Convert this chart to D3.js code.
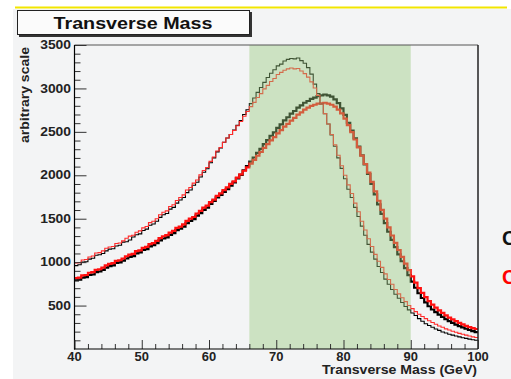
<!DOCTYPE html>
<html><head><meta charset="utf-8">
<script src="https://cdn.jsdelivr.net/npm/d3@7"></script>
<style>
html,body{margin:0;padding:0;background:#fff;}
svg{display:block;font-family:"Liberation Sans",Arial,sans-serif;}
</style></head>
<body>
<script>
// ---- data ----
const titleText = "Transverse Mass";
const xTitle = "Transverse Mass (GeV)";
const yTitle = "arbitrary scale";
const xTickLabels = [40, 50, 60, 70, 80, 90, 100];
const yTickLabels = [500, 1000, 1500, 2000, 2500, 3000, 3500];
const bandRange = [66, 90];
const binLow = d3.range(40, 100, 0.5); // lower edges of 0.5 GeV bins

// thin black (narrow peak)
const thinBlack = [960,970,1000,1005,1035,1045,1080,1085,1100,1130,1150,1155,1185,1195,1230,1235,1255,1290,1315,1325,
1365,1380,1425,1440,1470,1515,1545,1560,1610,1630,1680,1715,1745,1800,1830,1885,1920,1980,2035,2075,
2145,2200,2270,2315,2380,2430,2470,2520,2575,2630,2700,2755,2825,2890,2955,3010,3070,3125,3175,3215,
3260,3280,3315,3335,3345,3340,3350,3320,3290,3240,3165,3050,2940,2820,2710,2590,2465,2335,2200,2080,
1960,1840,1745,1630,1525,1415,1310,1205,1115,1035,950,880,805,745,685,630,585,535,490,450,
415,385,350,320,290,270,250,230,215,195,185,170,160,150,140,130,122,114,107,100];
// thin red (narrow peak)
const thinRed = [990,995,1025,1030,1060,1070,1105,1110,1130,1160,1175,1180,1215,1220,1245,1275,1300,1310,1345,1360,
1395,1410,1455,1470,1500,1545,1575,1590,1640,1660,1710,1745,1775,1830,1860,1910,1945,2005,2055,2090,
2160,2210,2280,2320,2380,2430,2470,2515,2570,2620,2680,2735,2790,2840,2895,2940,2995,3035,3080,3115,
3160,3185,3210,3225,3235,3225,3230,3200,3170,3130,3075,3005,2920,2820,2710,2590,2470,2350,2230,2110,
2000,1890,1790,1680,1580,1470,1370,1270,1180,1090,1010,940,865,800,745,685,635,590,545,500,
465,430,400,375,350,325,305,285,265,250,232,218,204,192,180,170,160,150,140,132];
// thick black (broad peak)
const thickBlack = [790,798,822,828,852,858,885,892,912,938,955,962,990,998,1018,1042,1060,1070,1100,1112,
1140,1150,1182,1195,1220,1250,1272,1285,1315,1335,1368,1385,1410,1448,1475,1495,1535,1565,1602,1628,
1672,1705,1745,1775,1808,1840,1882,1918,1965,2005,2058,2105,2158,2205,2258,2305,2358,2405,2455,2495,
2545,2585,2632,2668,2710,2740,2778,2805,2835,2855,2880,2895,2912,2920,2930,2920,2905,2875,2830,2770,
2695,2605,2515,2425,2330,2230,2125,2015,1900,1780,1665,1555,1450,1350,1257,1172,1090,1010,930,850,
775,705,642,587,537,492,455,425,396,369,344,321,300,281,264,248,233,219,206,195];
// thick red (broad peak)
const thickRed = [815,822,848,852,878,884,910,918,936,962,980,988,1015,1022,1042,1068,1086,1095,1126,1136,
1165,1176,1208,1220,1244,1276,1298,1310,1340,1360,1394,1410,1435,1474,1500,1520,1560,1590,1628,1650,
1692,1720,1762,1792,1830,1860,1900,1930,1972,2010,2052,2090,2135,2178,2225,2268,2315,2358,2402,2440,
2482,2520,2560,2592,2630,2662,2698,2725,2755,2778,2800,2812,2825,2828,2835,2825,2812,2790,2757,2712,
2652,2577,2497,2412,2322,2227,2130,2030,1925,1815,1707,1602,1500,1400,1307,1222,1140,1060,982,907,
835,765,702,647,597,552,512,477,445,415,387,362,340,320,301,284,266,252,240,230];

const series = [
  {name:"thickBlack", values: thickBlack, color:"#000000", width:2.2},
  {name:"thickRed",   values: thickRed,   color:"#ff1010", width:2.2},
  {name:"thinBlack",  values: thinBlack,  color:"#000000", width:1.1},
  {name:"thinRed",    values: thinRed,    color:"#ff2a2a", width:1.1}
];

// ---- drawing ----
const W = 511, H = 379;
const svg = d3.select("body").append("svg").attr("width", W).attr("height", H);

svg.append("rect").attr("x",0).attr("y",0).attr("width",W).attr("height",H).attr("fill","#ffffff");
svg.append("rect").attr("x",13).attr("y",9).attr("width",W-13).attr("height",H-9).attr("fill","#f3f4f5");
svg.append("line").attr("x1",15).attr("x2",507).attr("y1",7.5).attr("y2",7.5)
  .attr("stroke","#f2e600").attr("stroke-width",2);

const x = d3.scaleLinear().domain([40,100]).range([74.5,478]);
const y = d3.scaleLinear().domain([0,3500]).range([349,45]);

const plot = svg.append("g");
svg.append("clipPath").attr("id","clip").append("rect")
  .attr("x",x(40)).attr("y",y(3500)).attr("width",x(100)-x(40)).attr("height",y(0)-y(3500));

const lineG = plot.append("g").attr("clip-path","url(#clip)");
const stepLine = d3.line().x(d=>x(d[0])).y(d=>y(d[1])).curve(d3.curveStepAfter);
series.forEach(s=>{
  const pts = binLow.map((b,i)=>[b, s.values[i]]);
  pts.push([100, s.values[s.values.length-1]]);
  lineG.append("path").attr("d", stepLine(pts)).attr("fill","none")
    .attr("stroke", s.color).attr("stroke-width", s.width).attr("stroke-linejoin","miter");
});

// green band over the lines (translucent)
plot.append("rect").attr("x",x(bandRange[0])).attr("y",y(3500))
  .attr("width",x(bandRange[1])-x(bandRange[0])).attr("height",y(0)-y(3500))
  .attr("fill","rgb(150,200,125)").attr("fill-opacity",0.42);

// frame
plot.append("line").attr("x1",x(40)).attr("x2",x(100)).attr("y1",y(3500)).attr("y2",y(3500))
  .attr("stroke","#555").attr("stroke-width",1);
plot.append("line").attr("x1",x(100)).attr("x2",x(100)).attr("y1",y(3500)).attr("y2",y(0))
  .attr("stroke","#222").attr("stroke-width",1.5);

// y axis
const yMinor = d3.range(100, 3500, 100).filter(v=>v%500!==0);
const yAx = svg.append("g").attr("transform",`translate(${x(40)},0)`);
yAx.call(d3.axisRight(y).tickValues(yMinor).tickSize(6).tickFormat(""));
yAx.call(g=>g.select(".domain").remove());
const yMaj = svg.append("g").attr("transform",`translate(${x(40)},0)`);
yMaj.call(d3.axisRight(y).tickValues(yTickLabels).tickSize(12).tickFormat(""));
yMaj.select(".domain").remove();
svg.append("line").attr("x1",x(40)).attr("x2",x(40)).attr("y1",y(3500)).attr("y2",y(0)+0.5)
  .attr("stroke","#000").attr("stroke-width",1.2);
svg.selectAll("text.ylab").data(yTickLabels).enter().append("text")
  .attr("class","ylab").attr("x",71).attr("y",d=>y(d)+4.2)
  .attr("text-anchor","end").attr("font-size",12).attr("font-weight","bold")
  .attr("fill","#222").attr("textLength",d=>String(d).length*7.7).attr("lengthAdjust","spacingAndGlyphs")
  .text(d=>d);

// x axis
const xMinor = d3.range(42, 100, 2).filter(v=>v%10!==0);
const xAx = svg.append("g").attr("transform",`translate(0,${y(0)})`);
xAx.call(d3.axisTop(x).tickValues(xMinor).tickSize(5).tickFormat(""));
xAx.select(".domain").remove();
const xMaj = svg.append("g").attr("transform",`translate(0,${y(0)})`);
xMaj.call(d3.axisTop(x).tickValues(xTickLabels).tickSize(9).tickFormat(""));
xMaj.select(".domain").remove();
svg.append("line").attr("x1",x(40)-0.5).attr("x2",x(100)).attr("y1",y(0)).attr("y2",y(0))
  .attr("stroke","#000").attr("stroke-width",1.2);
svg.selectAll("text.xlab").data(xTickLabels).enter().append("text")
  .attr("class","xlab").attr("x",d=>x(d)).attr("y",y(0)+12)
  .attr("text-anchor","middle").attr("font-size",12).attr("font-weight","bold")
  .attr("fill","#222").attr("textLength",d=>String(d).length*7.2).attr("lengthAdjust","spacingAndGlyphs")
  .text(d=>d);

svg.selectAll(".tick line").attr("stroke","#333").attr("stroke-width",1);

// axis titles
svg.append("text").attr("x",477).attr("y",374).attr("text-anchor","end")
  .attr("font-size",12).attr("font-weight","bold").attr("fill","#222")
  .attr("textLength",155).attr("lengthAdjust","spacingAndGlyphs").text(xTitle);
svg.append("text").attr("transform","translate(29,47) rotate(-90)").attr("text-anchor","end")
  .attr("font-size",12).attr("font-weight","bold").attr("fill","#222")
  .attr("textLength",96).attr("lengthAdjust","spacingAndGlyphs").text(yTitle);

// title box
svg.append("rect").attr("x",19).attr("y",12).attr("width",233).attr("height",25).attr("fill","#333");
svg.append("rect").attr("x",17.5).attr("y",10.5).attr("width",232).attr("height",24)
  .attr("fill","#fbfbfb").attr("stroke","#222").attr("stroke-width",1);
svg.append("text").attr("x",133).attr("y",28.5).attr("text-anchor","middle")
  .attr("font-size",17).attr("font-weight","bold").attr("fill","#111")
  .attr("textLength",159).attr("lengthAdjust","spacingAndGlyphs").text(titleText);

// clipped legend letters at right edge (cut off in the reference too)
svg.append("text").attr("x",502).attr("y",245).attr("font-size",20).attr("font-weight","bold")
  .attr("fill","#111").text("C");
svg.append("text").attr("x",502).attr("y",284).attr("font-size",20).attr("font-weight","bold")
  .attr("fill","#ff0000").text("C");
</script>
</body></html>
